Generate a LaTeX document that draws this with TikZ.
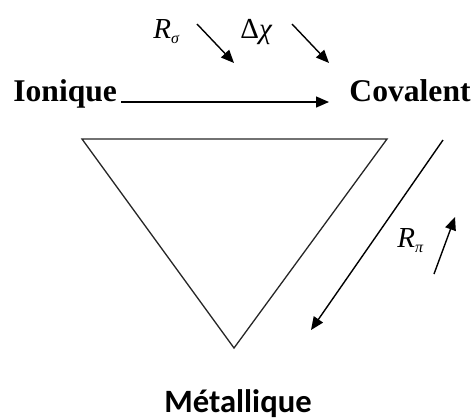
\documentclass[tikz,border=0pt]{standalone}
\usepackage{fontspec}
\setmainfont{Liberation Serif}
\newfontfamily\carlito{Carlito}
\usetikzlibrary{arrows.meta}
\begin{document}
\begin{tikzpicture}[x=0.5pt,y=-0.5pt,
  lbl/.style={inner sep=0pt,font=\fontsize{15.8}{18}\selectfont\bfseries},
  sym/.style={inner sep=0pt,font=\fontsize{14.5}{16}\selectfont},
  arr/.style={line width=0.7pt,-{Triangle[length=6.5pt,width=5.5pt]}},
  tri/.style={line width=0.65pt,draw=black!85,line join=miter}]
\useasboundingbox (0,0) rectangle (475,419);
% labels
\node[lbl,anchor=base west] (ion) at (13,101) {Ionique};
\node[lbl,anchor=base east] (cov) at (471,101) {Covalent};
\node[inner sep=0pt,anchor=base,font=\carlito\fontsize{16.3}{19}\selectfont\bfseries] (met) at (238,412) {Métallique};
\node[sym,anchor=base west] (rs) at (153,38) {\itshape R\raisebox{-0.4ex}{\fontsize{8}{9}\selectfont σ}};
\node[sym,anchor=base west] (dx) at (240,38) {Δ\itshape χ};
\node[sym,anchor=base west] (rp) at (397,247) {\itshape R\raisebox{-0.4ex}{\fontsize{8}{9}\selectfont π}};
% coordinates
\coordinate (h0) at (121,102);
\coordinate (h1) at (329,102);
\coordinate (a0) at (197,24);
\coordinate (a1) at (234,63);
\coordinate (b0) at (292,24);
\coordinate (b1) at (329,63);
\coordinate (l0) at (443,140);
\coordinate (l1) at (311,330);
\coordinate (u0) at (434,274);
\coordinate (u1) at (455,217);
\coordinate (t1) at (82,139);
\coordinate (t2) at (387,139);
\coordinate (t3) at (234,348);
% drawing
\draw[tri] (t1) -- (t2) -- (t3) -- cycle;
\draw[arr] (h0) -- (h1);
\draw[arr] (a0) -- (a1);
\draw[arr] (b0) -- (b1);
\draw[arr] (l0) -- (l1);
\draw[arr] (u0) -- (u1);
\end{tikzpicture}
\end{document}
